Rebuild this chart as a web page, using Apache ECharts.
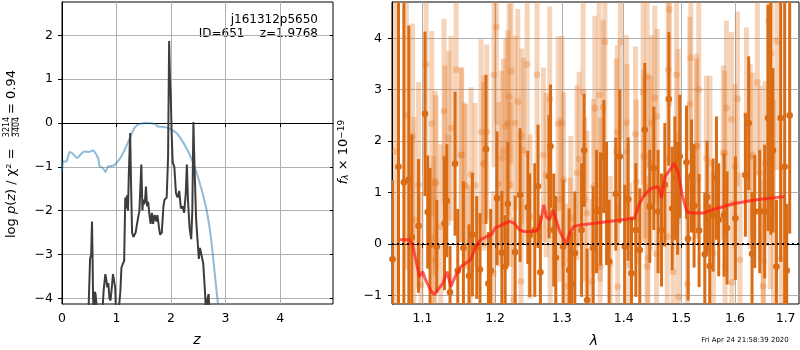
<!DOCTYPE html>
<html>
<head>
<meta charset="utf-8">
<script src="https://cdn.jsdelivr.net/npm/echarts@6/dist/echarts.min.js"></script>
<style>
  html, body { margin: 0; padding: 0; background: #fff; }
  #main { width: 800px; height: 350px; }
</style>
</head>
<body>
<div id="main"></div>
<script>
// ---- left panel: redshift probability ----
var pzZ = [0, 0.02, 0.08, 0.14, 0.2, 0.275, 0.355, 0.415, 0.495, 0.57, 0.63, 0.67, 0.69, 0.75, 0.8, 0.845, 0.935, 1.0, 1.09, 1.18,
  1.26, 1.33, 1.425, 1.55, 1.7, 1.76, 1.88, 1.99, 2.1, 2.19, 2.28, 2.37, 2.46, 2.56, 2.65, 2.72, 2.77, 2.82, 2.86, 2.88];
var pzLogP = [-1.1, -0.88, -0.88, -0.66, -0.7, -0.8, -0.7, -0.65, -0.66, -0.63, -0.72, -0.84, -0.99, -1.03, -1.12, -0.99, -0.98, -0.91, -0.76, -0.53,
  -0.3, -0.11, -0.02, 0, -0.02, -0.08, -0.09, -0.14, -0.23, -0.38, -0.57, -0.8, -1.1, -1.52, -1.98, -2.5, -3.05, -3.66, -4.13, -4.5];

var chiZ = [0.48, 0.495, 0.515, 0.535, 0.55, 0.56, 0.57, 0.585, 0.60, 0.615, 0.63, 0.645, 0.70, 0.74, 0.765, 0.795, 0.81, 0.83, 0.85, 0.87,
  0.89, 0.91, 0.935, 0.955, 0.975, 0.99, 1.02, 1.045, 1.07, 1.09, 1.12, 1.14, 1.16, 1.175, 1.19, 1.21, 1.225, 1.25, 1.265, 1.285,
  1.31, 1.35, 1.39, 1.42, 1.455, 1.475, 1.49, 1.505, 1.52, 1.54, 1.56, 1.58, 1.60, 1.625, 1.65, 1.67, 1.70, 1.73, 1.75, 1.78,
  1.80, 1.83, 1.86, 1.88, 1.92, 1.945, 1.965, 1.98, 1.995, 2.01, 2.03, 2.06, 2.09, 2.12, 2.15, 2.18, 2.21, 2.24, 2.27, 2.29,
  2.31, 2.34, 2.37, 2.39, 2.41, 2.43, 2.46, 2.49, 2.51, 2.53, 2.56, 2.59, 2.62, 2.64, 2.67, 2.69, 2.71];
var chiLogP = [-4.6, -3.9, -3.1, -3.0, -2.25, -3.0, -4.0, -4.5, -3.85, -3.9, -4.1, -4.6, -4.6, -4.3, -3.8, -3.45, -3.55, -3.75, -3.65, -4.0,
  -4.05, -3.8, -3.45, -3.45, -3.75, -4.3, -4.4, -4.2, -3.85, -3.3, -3.2, -3.15, -1.7, -1.95, -1.65, -2.0, -1.2, -0.23, -1.3, -2.5,
  -2.6, -2.5, -2.2, -2.0, -0.95, -2.0, -1.75, -1.85, -1.8, -1.45, -1.9, -1.8, -2.05, -2.3, -2.05, -2.3, -2.1, -2.25, -2.1, -2.4,
  -2.55, -2.5, -1.9, -1.75, -1.7, -0.8, 1.87, 1.0, 0.6, -0.2, -0.9, -1.0, -1.6, -1.7, -1.55, -1.95, -1.9, -2.05, -1.6, -0.95,
  -1.75, -2.4, -2.65, -2.0, 0.02, -1.0, -2.2, -2.75, -3.1, -2.85, -2.85, -3.2, -3.8, -4.3, -4.0, -3.9, -4.6];

var zTicks = [0, 1, 2, 3, 4];
var logPTicks = [-4, -3, -2, -1, 0, 1, 2];

// ---- right panel: spectrum ----
// strong points (dark orange)
var hiLam = [1.0611, 1.0688, 1.0757, 1.0821, 1.0860, 1.0947, 1.1033, 1.1069, 1.1100, 1.1190, 1.1294, 1.1325, 1.1369, 1.1438, 1.1475,
  1.1553, 1.1631, 1.1678, 1.1739, 1.1785, 1.1870, 1.1904, 1.1937, 1.2028, 1.2098, 1.2146, 1.2185, 1.2292, 1.2365, 1.2480,
  1.2509, 1.2585, 1.2634, 1.2670, 1.2802, 1.2824, 1.2875, 1.2906, 1.3020, 1.3114, 1.3152, 1.3204, 1.3311, 1.3352, 1.3400,
  1.3497, 1.3552, 1.3617, 1.3671, 1.3716, 1.3758, 1.3869, 1.3935, 1.4019, 1.4075, 1.4132, 1.4206, 1.4273, 1.4359, 1.4445,
  1.4515, 1.4590, 1.4650, 1.4708, 1.4779, 1.4838, 1.4886, 1.4935, 1.4974, 1.5095, 1.5124, 1.5186, 1.5233, 1.5325, 1.5430,
  1.5472, 1.5522, 1.5584, 1.5647, 1.5690, 1.5791, 1.5848, 1.6007, 1.6200, 1.6264, 1.6329, 1.6382, 1.6480, 1.6579, 1.6645,
  1.6699, 1.6745, 1.6814, 1.6900, 1.6981, 1.7022, 1.7083];
var hiFlux = [-0.30, 1.50, 1.20, 1.25, 0.13, 0.35, 2.53, 0.62, -0.02, -0.05, 0.40, 0.84, -0.94, 1.56, -0.52,
  -0.08, -0.62, 0.18, -0.07, -0.50, 1.84, -0.77, -0.52, 0.89, -0.17, -0.44, 0.78, -0.16, 0.95, 0.71,
  0.17, 0.27, 1.12, -0.55, 1.31, 1.90, 0.27, -0.27, -0.05, -0.51, -0.77, -0.18, 0.27, 1.82, -1.09,
  -0.08, 0.63, 0.68, 1.70, 0.79, -0.34, 0.97, 1.70, -0.05, 0.87, -0.57, 0.27, -0.12, 2.22, 0.73,
  1.47, 0.63, 0.27, 1.15, 2.82, 0.69, 1.28, 0.89, 1.70, 1.59, 0.10, 1.32, 0.74, 0.26, -0.20,
  0.91, -0.43, 0.56, 1.28, 0.47, 0.56, 0.31, 0.50, 1.34, 2.35, -0.19, 0.63, 0.63, 0.63, 2.45,
  2.68, 1.82, -0.44, 2.45, 1.50, -0.52, 2.50];
var hiErr = [1.55, 3.5, 3.5, 3.0, 2.0, 1.3, 1.6, 1.1, 1.5, 0.9, 1.3, 1.1, 0.9, 1.4, 1.2,
  1.3, 1.0, 1.2, 1.0, 1.1, 1.45, 1.0, 1.2, 1.3, 1.2, 1.0, 1.2, 1.1, 1.3, 1.1,
  1.2, 1.3, 1.2, 1.1, 1.2, 1.2, 1.1, 1.2, 1.3, 1.2, 1.0, 1.2, 1.3, 1.1, 1.0,
  1.2, 1.2, 1.1, 1.1, 1.2, 1.2, 1.1, 1.3, 1.2, 1.2, 1.1, 1.3, 1.2, 1.3, 1.1,
  1.2, 1.2, 1.1, 1.2, 1.3, 1.2, 1.2, 1.1, 1.2, 1.1, 1.2, 1.1, 1.2, 1.1, 1.2,
  1.1, 1.2, 1.1, 1.2, 1.1, 1.2, 1.1, 1.2, 1.2, 1.3, 1.2, 1.1, 1.2, 1.3, 2.2,
  2.5, 1.6, 1.3, 2.8, 3.5, 1.3, 2.3];

// weak points (faded orange)
var loLam = [1.0650, 1.0790, 1.0869, 1.0886, 1.0947, 1.0981, 1.1047, 1.1123, 1.1147, 1.1160, 1.1168, 1.1243, 1.1288, 1.1348, 1.1383,
  1.1452, 1.1521, 1.1586, 1.1646, 1.1660, 1.1716, 1.1800, 1.1834, 1.1881, 1.1977, 1.1985, 1.2019, 1.2048, 1.2096, 1.2183,
  1.2203, 1.2232, 1.2268, 1.2292, 1.2331, 1.2379, 1.2390, 1.2470, 1.2619, 1.2813, 1.2942, 1.3004, 1.3062, 1.3140, 1.3271,
  1.3335, 1.3363, 1.3481, 1.3524, 1.3594, 1.3610, 1.3660, 1.3688, 1.3894, 1.3900, 1.3945, 1.4047, 1.4103, 1.4200, 1.4215,
  1.4330, 1.4365, 1.4399, 1.4416, 1.4475, 1.4532, 1.4562, 1.4573, 1.4767, 1.4790, 1.4856, 1.4916, 1.4944, 1.4950, 1.5114,
  1.5155, 1.5173, 1.5277, 1.5319, 1.5461, 1.5804, 1.5810, 1.5836, 1.5931, 1.5938, 1.6046, 1.6220, 1.6340, 1.6435, 1.6546,
  1.6590, 1.6658, 1.6710, 1.6825, 1.6914,
  1.1180, 1.1301, 1.1529, 1.1565, 1.1842, 1.2120, 1.2155, 1.2218, 1.2414, 1.2514, 1.2716, 1.2757, 1.2819, 1.2975, 1.3027,
  1.3132, 1.3238, 1.3398, 1.3505, 1.3613, 1.3777, 1.3877, 1.4056, 1.4339, 1.4398, 1.4456, 1.4750, 1.5282, 1.5527, 1.5589,
  1.5777, 1.6000, 1.6096, 1.6294, 1.6489, 1.6555, 1.6689, 1.6755];
var loFlux = [1.8, 2.5, 2.09, 0.47, 1.15, -0.80, 3.49, 2.34, 0.11, -0.31, 1.18, 0.34, 2.58, 2.06, 2.25,
  3.39, 1.73, 1.12, -0.47, 1.35, 1.14, 2.18, 1.55, 2.18, -0.57, 3.29, 4.22, 1.16, 1.67, 2.35,
  2.87, 3.36, -1.09, 2.35, 2.77, -0.73, 2.10, 3.49, 3.29, 2.82, 2.34, 2.35, -0.82, 0.50, 1.65,
  2.95, 0.87, -0.73, 2.64, 2.90, -0.44, 2.66, 3.93, 2.17, -0.83, 3.93, 2.36, -0.41, 2.14, 1.21,
  2.95, 1.70, 3.26, -0.28, 2.36, 2.84, -0.19, 2.48, 3.39, 4.56, -0.54, 3.29, 2.09, -1.03, -0.78,
  2.72, 3.62, 1.90, 3.00, 1.67, 1.77, -0.44, 2.64, 2.42, -0.75, 2.82, 2.51, 1.73, 3.14, -0.82,
  1.57, 4.33, 3.70, 3.94, -0.28,
  1.19, 1.67, 1.73, 1.15, 1.57, 1.80, 2.29, 1.15, 1.82, 0.53, 1.73, 1.34, 0.27, 0.86, 1.25,
  -0.31, 1.38, 0.60, 1.12, 0.86, -0.38, 1.80, 1.80, 1.70, -0.44, 1.57, 0.14, 1.90, 1.57, -0.18,
  1.77, 1.51, -0.31, 1.70, 1.38, -0.34, 1.12, 0.60];
var loErr = [3.5, 3.0, 2.2, 2.0, 2.0, 1.8, 1.8, 1.8, 1.6, 1.6, 1.8, 1.6, 1.8, 1.7, 1.8,
  1.8, 1.7, 1.6, 1.6, 1.7, 1.6, 1.8, 1.6, 1.7, 1.6, 1.8, 1.9, 1.6, 1.7, 1.8,
  1.8, 1.8, 1.6, 1.7, 1.8, 1.6, 1.7, 1.8, 1.8, 1.8, 1.7, 1.7, 1.6, 1.6, 1.7,
  1.8, 1.6, 1.6, 1.8, 1.8, 1.6, 1.7, 1.9, 1.7, 1.6, 1.9, 1.7, 1.6, 1.7, 1.6,
  1.8, 1.6, 1.8, 1.6, 1.7, 1.8, 1.6, 1.7, 1.8, 1.9, 1.6, 1.8, 1.7, 1.6, 1.6,
  1.7, 1.8, 1.7, 1.8, 1.6, 1.6, 1.6, 1.7, 1.7, 1.6, 1.7, 1.7, 1.6, 1.8, 1.6,
  1.6, 2.5, 2.5, 2.5, 1.8,
  1.7, 1.8, 1.7, 1.6, 1.7, 1.8, 1.7, 1.6, 1.8, 1.6, 1.7, 1.6, 1.7, 1.6, 1.7,
  1.6, 1.7, 1.6, 1.7, 1.6, 1.7, 1.8, 1.7, 1.7, 1.6, 1.7, 1.6, 1.8, 1.7, 1.6,
  1.7, 1.6, 1.7, 1.8, 1.7, 1.6, 2.0, 2.2];

// best-fit model
var modelLam = [1.0705, 1.083, 1.087, 1.093, 1.096, 1.100, 1.105, 1.112, 1.116, 1.120, 1.127, 1.133, 1.138, 1.145, 1.152,
  1.158, 1.165, 1.172, 1.179, 1.186, 1.195, 1.200, 1.207, 1.214, 1.221, 1.228, 1.236, 1.243, 1.255, 1.263,
  1.268, 1.272, 1.276, 1.281, 1.286, 1.291, 1.296, 1.302, 1.307, 1.312, 1.319, 1.330, 1.352, 1.385, 1.418,
  1.427, 1.435, 1.447, 1.459, 1.465, 1.471, 1.480, 1.487, 1.495, 1.501, 1.510, 1.519, 1.540, 1.565, 1.596,
  1.641, 1.697];
var modelFlux = [0.08, 0.08, -0.02, -0.44, -0.64, -0.54, -0.73, -0.93, -0.99, -0.90, -0.77, -0.54, -0.83, -0.60, -0.44,
  -0.38, -0.31, -0.08, 0.08, 0.13, 0.18, 0.31, 0.35, 0.40, 0.44, 0.40, 0.27, 0.24, 0.24, 0.27,
  0.47, 0.76, 0.53, 0.47, 0.66, 0.47, 0.27, 0.11, 0.01, 0.21, 0.34, 0.37, 0.40, 0.45, 0.50,
  0.79, 0.95, 1.08, 1.12, 0.89, 1.31, 1.44, 1.57, 1.38, 0.99, 0.63, 0.60, 0.60, 0.69, 0.78,
  0.86, 0.92];

var lamTicks = [1.1, 1.2, 1.3, 1.4, 1.5, 1.6, 1.7];
var fluxTicks = [-1, 0, 1, 2, 3, 4];

// ---- build ----
var FONT = 'DejaVu Sans';
var GRID_C = '#b0b0b0';
var ORANGE = '#d96c14';
var ORANGE_LIGHT = 'rgba(228,120,40,0.32)';

function minus(v) { return v < 0 ? '\u2212' + Math.abs(v) : String(v); }
function lg(v) { return Math.log10(v); }

// error bars: vertical rect from flux-err to flux+err plus a dot, clipped to the grid
function errBars(errs, barW, color, r) {
  return function (params, api) {
    var x = api.value(0), y = api.value(1), e = errs[params.dataIndex];
    var cs = params.coordSys;
    var top = api.coord([x, y + e]);
    var bot = api.coord([x, y - e]);
    var c = api.coord([x, y]);
    var rect = echarts.graphic.clipRectByRect(
      { x: top[0] - barW / 2, y: top[1], width: barW, height: bot[1] - top[1] },
      { x: cs.x, y: cs.y, width: cs.width, height: cs.height });
    var kids = [];
    if (rect) kids.push({ type: 'rect', shape: rect, style: { fill: color } });
    if (c[1] >= cs.y && c[1] <= cs.y + cs.height) {
      kids.push({ type: 'circle', shape: { cx: c[0], cy: c[1], r: r }, style: { fill: color } });
    }
    return { type: 'group', children: kids };
  };
}

function tickAxis(vals, extra) {
  var ax = {
    axisLine: { show: true, lineStyle: { color: '#000', width: 1 } },
    axisTick: { show: true, length: 4, lineStyle: { color: '#000' }, customValues: vals },
    axisLabel: { customValues: vals, color: '#000', fontSize: 12.5, fontFamily: FONT },
    splitLine: { show: true, lineStyle: { color: GRID_C, width: 1 } }
  };
  for (var k in extra) {
    if (k === 'axisLabel') Object.assign(ax.axisLabel, extra[k]);
    else ax[k] = extra[k];
  }
  return ax;
}

var option = {
  animation: false,
  backgroundColor: '#fff',
  textStyle: { fontFamily: FONT },
  grid: [
    { left: 62, top: 2, width: 271, height: 302, show: true, borderColor: '#000', borderWidth: 1, backgroundColor: 'transparent' },
    { left: 392, top: 2, width: 407, height: 302, show: true, borderColor: '#000', borderWidth: 1, backgroundColor: 'transparent' }
  ],
  xAxis: [
    tickAxis(zTicks, { gridIndex: 0, type: 'value', min: 0, max: 4.97, axisLabel: { margin: 8 } }),
    tickAxis(lamTicks.map(lg), {
      gridIndex: 1, type: 'value', min: lg(1.0605), max: lg(1.7275),
      axisLabel: { margin: 8, formatter: function (v) { return Math.pow(10, v).toFixed(1); } }
    })
  ],
  yAxis: [
    tickAxis(logPTicks, { gridIndex: 0, type: 'value', min: -4.13, max: 2.76, axisLabel: { margin: 9, formatter: minus } }),
    {
      gridIndex: 0, type: 'value', min: -4.13, max: 2.76, position: 'right',
      axisLine: { show: false },
      axisTick: { show: true, inside: true, length: 3, lineStyle: { color: '#000' }, customValues: logPTicks },
      axisLabel: { show: false },
      splitLine: { show: false }
    },
    tickAxis(fluxTicks, { gridIndex: 1, type: 'value', min: -1.169, max: 4.706, axisLabel: { margin: 10, formatter: minus } })
  ],
  series: [
    {
      name: 'p(z)', type: 'line', xAxisIndex: 0, yAxisIndex: 0,
      data: pzZ.map(function (v, i) { return [v, pzLogP[i]]; }), showSymbol: false, smooth: 0.2,
      lineStyle: { color: 'rgba(31,119,180,0.5)', width: 2 }, z: 3
    },
    {
      name: 'chi2', type: 'line', xAxisIndex: 0, yAxisIndex: 0,
      data: chiZ.map(function (v, i) { return [v, chiLogP[i]]; }), showSymbol: false,
      lineStyle: { color: '#3d3d3d', width: 2 }, z: 4
    },
    {
      name: 'weak', type: 'custom', xAxisIndex: 1, yAxisIndex: 2,
      data: loLam.map(function (v, i) { return [lg(v), loFlux[i]]; }),
      renderItem: errBars(loErr, 5, ORANGE_LIGHT, 3.4), z: 2
    },
    {
      name: 'strong', type: 'custom', xAxisIndex: 1, yAxisIndex: 2,
      data: hiLam.map(function (v, i) { return [lg(v), hiFlux[i]]; }),
      renderItem: errBars(hiErr, 3, ORANGE, 3.3), z: 3
    },
    {
      name: 'model', type: 'line', xAxisIndex: 1, yAxisIndex: 2,
      data: modelLam.map(function (v, i) { return [lg(v), modelFlux[i]]; }),
      showSymbol: false, lineStyle: { color: 'rgba(255,25,20,0.7)', width: 3 }, z: 5,
      markLine: {
        silent: true, symbol: 'none', label: { show: false },
        lineStyle: { color: '#000', type: [2, 3], width: 2 },
        data: [{ yAxis: 0 }]
      }
    }
  ],
  graphic: [
    {
      type: 'text', x: 318, y: 20,
      style: { text: 'j161312p5650', font: '12px "DejaVu Sans"', fill: '#000', align: 'right', verticalAlign: 'middle' }
    },
    {
      type: 'text', x: 318, y: 34,
      style: { text: 'ID=651    z=1.9768', font: '12px "DejaVu Sans"', fill: '#000', align: 'right', verticalAlign: 'middle' }
    },
    {
      type: 'text', x: 197, y: 340,
      style: { text: 'z', font: 'italic 14px "DejaVu Sans"', fill: '#000', align: 'center', verticalAlign: 'middle' }
    },
    {
      type: 'text', x: 594, y: 341,
      style: { text: 'λ', font: 'italic 14px "DejaVu Sans"', fill: '#000', align: 'center', verticalAlign: 'middle' }
    },
    {
      type: 'text', x: 745, y: 340,
      style: { text: 'Fri Apr 24 21:58:39 2020', font: '7px "DejaVu Sans"', fill: '#000', align: 'center', verticalAlign: 'middle' }
    },
    {
      // left y-axis title, read bottom to top, with a stacked fraction
      type: 'group', x: 12, y: 238, rotation: Math.PI / 2,
      children: [
        {
          type: 'text', x: 0, y: 0,
          style: {
            text: 'log {i|p}({i|z}) / χ² =', font: '13px "DejaVu Sans"', fill: '#000', align: 'left', verticalAlign: 'middle',
            rich: { i: { fontStyle: 'italic', fontSize: 13, fontFamily: FONT } }
          }
        },
        { type: 'text', x: 111, y: -5, style: { text: '3214', font: '8px "DejaVu Sans"', fill: '#000', align: 'center', verticalAlign: 'middle' } },
        { type: 'line', shape: { x1: 102, y1: 0, x2: 120, y2: 0 }, style: { stroke: '#000', lineWidth: 0.8 } },
        { type: 'text', x: 111, y: 5, style: { text: '3404', font: '8px "DejaVu Sans"', fill: '#000', align: 'center', verticalAlign: 'middle' } },
        { type: 'text', x: 124, y: 0, style: { text: '= 0.94', font: '13px "DejaVu Sans"', fill: '#000', align: 'left', verticalAlign: 'middle' } }
      ]
    },
    {
      type: 'text', x: 344, y: 152, rotation: Math.PI / 2,
      style: {
        text: '{i|f}{s|λ} × 10{p|−19}',
        font: '13px "DejaVu Sans"', fill: '#000', align: 'center', verticalAlign: 'middle',
        rich: {
          i: { fontStyle: 'italic', fontSize: 13, fontFamily: FONT },
          s: { fontStyle: 'italic', fontSize: 9, fontFamily: FONT, verticalAlign: 'bottom' },
          p: { fontSize: 9, fontFamily: FONT, verticalAlign: 'top' }
        }
      }
    }
  ]
};

var chart = echarts.init(document.getElementById('main'));
chart.setOption(option);
</script>
</body>
</html>
